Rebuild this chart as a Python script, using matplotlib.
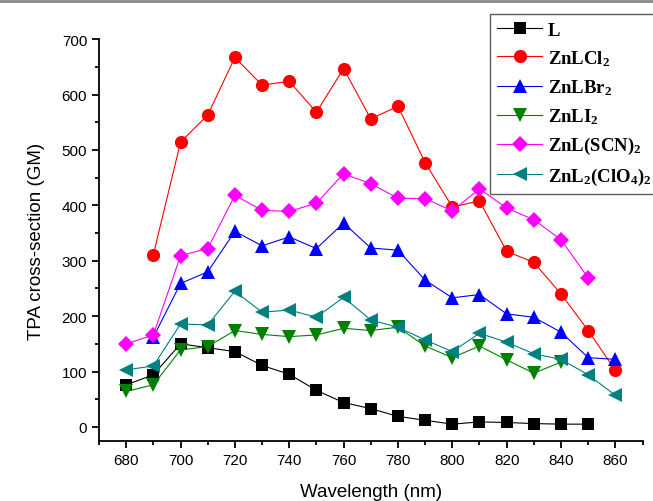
import matplotlib
matplotlib.use("Agg")
import matplotlib.pyplot as plt
from matplotlib.ticker import MultipleLocator
from matplotlib.lines import Line2D

plt.rcParams['font.family'] = ['Liberation Sans', 'DejaVu Sans']
plt.rcParams['mathtext.default'] = 'regular'

x_L = [680, 690, 700, 710, 720, 730, 740, 750, 760, 770, 780, 790, 800, 810, 820, 830, 840, 850]
y_L = [76, 94, 150, 143, 136, 111, 95, 66, 44, 33, 19, 12, 5, 9, 8, 6, 5, 5]

x_Cl = [690, 700, 710, 720, 730, 740, 750, 760, 770, 780, 790, 800, 810, 820, 830, 840, 850, 860]
y_Cl = [311, 514, 563, 667, 617, 624, 568, 647, 556, 579, 477, 397, 408, 317, 297, 240, 174, 102]

x_Br = [690, 700, 710, 720, 730, 740, 750, 760, 770, 780, 790, 800, 810, 820, 830, 840, 850, 860]
y_Br = [162, 259, 280, 353, 327, 343, 322, 368, 323, 319, 265, 233, 239, 204, 198, 171, 125, 122]

x_I = [680, 690, 700, 710, 720, 730, 740, 750, 760, 770, 780, 790, 800, 810, 820, 830, 840]
y_I = [64, 76, 139, 145, 174, 167, 163, 166, 178, 174, 180, 146, 125, 146, 121, 97, 117]

x_SCN = [680, 690, 700, 710, 720, 730, 740, 750, 760, 770, 780, 790, 800, 810, 820, 830, 840, 850]
y_SCN = [150, 166, 309, 322, 418, 391, 389, 404, 457, 439, 413, 412, 390, 430, 395, 374, 338, 269]

x_ClO4 = [680, 690, 700, 710, 720, 730, 740, 750, 760, 770, 780, 790, 800, 810, 820, 830, 840, 850, 860]
y_ClO4 = [103, 110, 186, 184, 245, 207, 211, 198, 234, 193, 180, 157, 136, 169, 153, 132, 122, 94, 57]

labels = ['L', r'ZnLCl$_2$', r'ZnLBr$_2$', r'ZnLI$_2$', r'ZnL(SCN)$_2$', r'ZnL$_2$(ClO$_4$)$_2$']

fig = plt.figure(figsize=(6.53, 5.02), dpi=100)
ax = fig.add_axes([0.1516, 0.120, 0.8324, 0.800])

series = [
    (x_L, y_L, 'black', 's', 8.5),
    (x_Cl, y_Cl, '#FF0000', 'o', 9.5),
    (x_Br, y_Br, '#0000FF', '^', 10),
    (x_I, y_I, '#008000', 'v', 10),
    (x_SCN, y_SCN, '#FF00FF', 'D', 8.5),
    (x_ClO4, y_ClO4, '#008080', '<', 10),
]
handles = []
for (xs, ys, c, m, ms), lab in zip(series, labels):
    h, = ax.plot(xs, ys, color=c, marker=m, markersize=ms, linewidth=0.8,
                 markeredgewidth=0, label=lab)
    handles.append(h)

ax.set_xlim(670, 870)
ax.set_ylim(-25, 700)
ax.xaxis.set_major_locator(MultipleLocator(20))
ax.xaxis.set_minor_locator(MultipleLocator(10))
ax.yaxis.set_major_locator(MultipleLocator(100))
ax.yaxis.set_minor_locator(MultipleLocator(50))
ax.spines['top'].set_visible(False)
ax.spines['right'].set_visible(False)
for s in ['left', 'bottom']:
    ax.spines[s].set_linewidth(1.3)
ax.tick_params(which='major', direction='out', length=5, width=1.3, labelsize=11)
ax.tick_params(which='minor', direction='out', length=3, width=1.3)

ax.set_xlabel('Wavelength (nm)', fontsize=13.5, labelpad=12)
ax.set_ylabel('TPA cross-section (GM)', fontsize=13.5, labelpad=12)

leg = fig.legend(handles=handles, labels=labels, loc='upper left',
                 bbox_to_anchor=(0.750, 0.970), bbox_transform=fig.transFigure,
                 prop={'family': 'Liberation Serif', 'weight': 'bold', 'size': 13.5},
                 frameon=True, fancybox=False, edgecolor='#333333',
                 handlelength=2.4, handletextpad=0.3, labelspacing=0.5,
                 borderpad=0.4, borderaxespad=0)
leg.get_frame().set_linewidth(1.0)

fig.add_artist(Line2D([0, 1], [0.997, 0.997], color='#888888', linewidth=2,
                      transform=fig.transFigure))

fig.savefig('out.png', dpi=100)
